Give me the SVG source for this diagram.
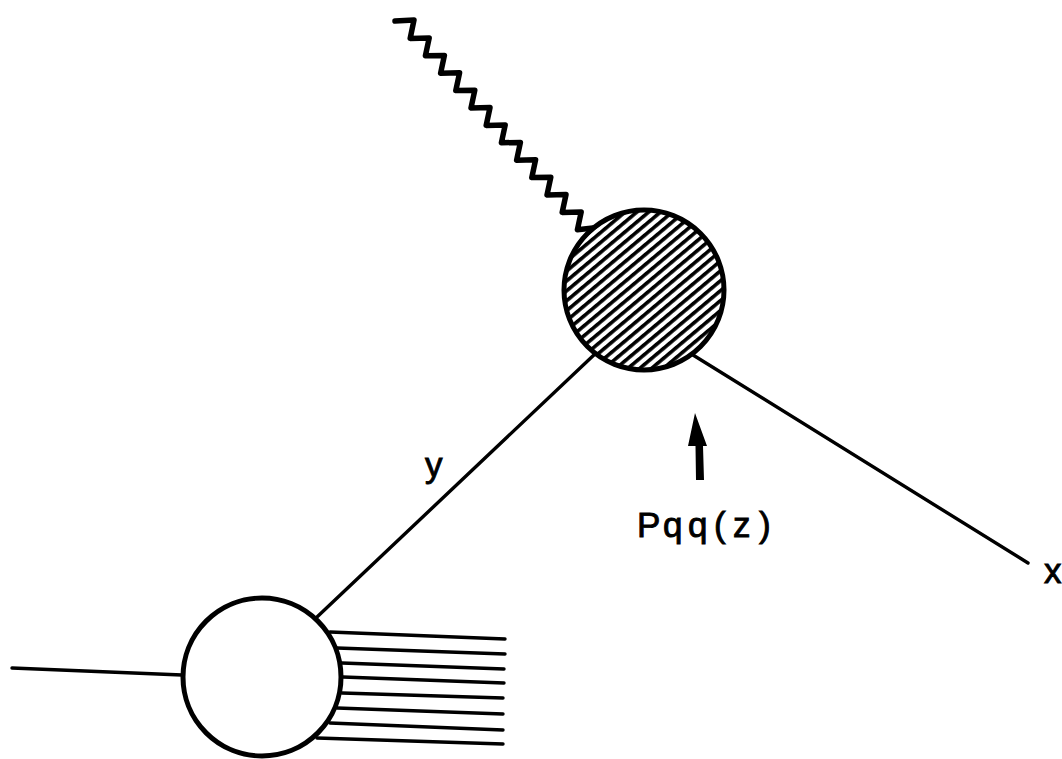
<svg xmlns="http://www.w3.org/2000/svg" width="1062" height="759" viewBox="0 0 1062 759">
  <defs>
    <style>
      .ln { stroke: #000; stroke-width: 3.4; fill: none; stroke-linecap: round; }
      .wave { stroke: #000; stroke-width: 5.5; fill: none; stroke-linejoin: round; stroke-linecap: round; }
      .blob { stroke: #000; stroke-width: 5; }
      .lbl { font-family: "Liberation Sans", Arial, sans-serif; font-size: 35px; fill: #000; stroke: #000; stroke-width: 0.9; }
    </style>
    <pattern id="hatch" patternUnits="userSpaceOnUse" width="20" height="7.6" patternTransform="rotate(-40)">
      <rect x="0" y="0" width="20" height="3.6" fill="#000"/>
    </pattern>
  </defs>
  <rect width="1062" height="759" fill="#fff"/>

  <g id="connectors">
    <path class="wave" d="M395,21 L414,20 L410.2,38.4 L429.2,38 L425.4,55.8 L444.4,55.4 L440.6,73.2 L459.6,72.8 L455.8,90.6 L474.8,90.2 L471,108 L490,107.6 L486.2,125.4 L505.2,125 L501.4,142.8 L520.4,142.4 L516.6,160.2 L535.6,159.8 L531.8,177.6 L550.8,177.2 L547,195 L566,194.6 L562.2,212.4 L581.2,212 L577.4,229.8 L593,228"/>
    <line class="ln" x1="317" y1="617" x2="596" y2="353"/>
    <line class="ln" x1="693" y1="355" x2="1028" y2="563"/>
    <line class="ln" x1="12" y1="668" x2="182" y2="675"/>
    <g id="jet">
      <line class="ln" x1="330" y1="632" x2="505" y2="639"/>
      <line class="ln" x1="337" y1="648" x2="505" y2="654"/>
      <line class="ln" x1="342" y1="663" x2="504" y2="669"/>
      <line class="ln" x1="343" y1="677" x2="504" y2="683"/>
      <line class="ln" x1="342" y1="693" x2="503" y2="698"/>
      <line class="ln" x1="337" y1="708" x2="503" y2="714"/>
      <line class="ln" x1="330" y1="723" x2="503" y2="730"/>
      <line class="ln" x1="317" y1="738" x2="503" y2="744"/>
    </g>
  </g>

  <g id="hatched-blob">
    <circle cx="644" cy="290" r="80" fill="#fff"/>
    <circle class="blob" cx="644" cy="290" r="80" fill="url(#hatch)"/>
  </g>

  <g id="open-blob">
    <circle class="blob" cx="262" cy="677" r="79" fill="#fff"/>
  </g>

  <g id="pqq-arrow">
    <polygon points="695,413 707,446 703,446 704,480 696,480 695.5,446 688,446" fill="#000"/>
    <text class="lbl" x="637 663 688 714 733 759" y="537">Pqq(z)</text>
  </g>

  <g id="label-y">
    <text class="lbl" x="425" y="477">y</text>
  </g>
  <g id="label-x">
    <text class="lbl" x="1044" y="583">x</text>
  </g>
</svg>
